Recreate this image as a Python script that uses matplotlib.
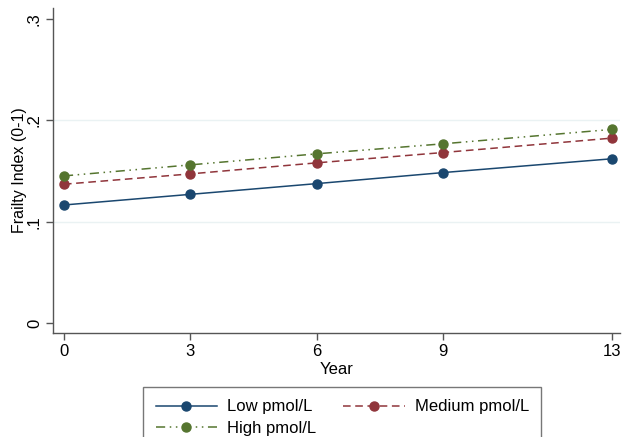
import matplotlib
matplotlib.use("Agg")
import matplotlib.pyplot as plt

plt.rcParams['font.family'] = ['Liberation Sans', 'DejaVu Sans']

years = [0, 3, 6, 9, 13]
low = [0.1165, 0.127, 0.1376, 0.1485, 0.1621]
medium = [0.137, 0.1472, 0.1581, 0.1683, 0.1825]
high = [0.1452, 0.1561, 0.167, 0.1769, 0.1911]
series_labels = ["Low pmol/L", "Medium pmol/L", "High pmol/L"]
yticks = [0, 0.1, 0.2, 0.3]
ytick_labels = ["0", ".1", ".2", ".3"]

navy = (26/255, 71/255, 111/255)
maroon = (144/255, 53/255, 59/255)
green = (85/255, 117/255, 47/255)

fig = plt.figure(figsize=(6.22, 4.37), dpi=100)
ax = fig.add_axes([53/622, (437-333)/437, (620-53)/622, (333-8)/437])

ms = 6.5
lw = 1.1
ax.plot(years, low, color=navy, lw=lw, ls='-', marker='o', ms=ms, label=series_labels[0], zorder=3)
ax.plot(years, medium, color=maroon, lw=lw, ls=(0, (5, 3)), marker='o', ms=ms, label=series_labels[1], zorder=3)
ax.plot(years, high, color=green, lw=lw, ls=(0, (6, 3, 1, 3, 1, 3)), marker='o', ms=ms, label=series_labels[2], zorder=3)

ax.set_xlim(-0.26, 13.2)
ax.set_ylim(-0.0099, 0.311)
ax.set_xticks(years)
ax.set_xticklabels([str(y) for y in years])
ax.set_yticks(yticks)
ax.set_yticklabels(ytick_labels, rotation=90, va='center')
for y in [0.1, 0.2]:
    ax.axhline(y, color=(234/255, 242/255, 243/255), lw=1, zorder=1)

for s in ['top', 'right']:
    ax.spines[s].set_visible(False)
for s in ['left', 'bottom']:
    ax.spines[s].set_color('#555555')
    ax.spines[s].set_linewidth(1)
ax.tick_params(axis='both', labelsize=12, length=5, width=1, color='#555555', direction='out', pad=3)
ax.set_xlabel("Year", fontsize=12, labelpad=2)
ax.set_ylabel("Frailty Index (0-1)", fontsize=11.5, labelpad=0)

handles, labels = ax.get_legend_handles_labels()
order = [0, 2, 1]
leg = fig.legend([handles[i] for i in order], [labels[i] for i in order],
                 loc='upper left', bbox_to_anchor=(143/622, 1 - 387/437),
                 ncol=2, fontsize=12, frameon=True, fancybox=False,
                 edgecolor='#555555', handlelength=3.7, handletextpad=0.6,
                 columnspacing=1.6, labelspacing=0.4, borderpad=0.75,
                 borderaxespad=0)
leg.get_frame().set_linewidth(1)

fig.savefig("out.png", dpi=100, facecolor='white')
